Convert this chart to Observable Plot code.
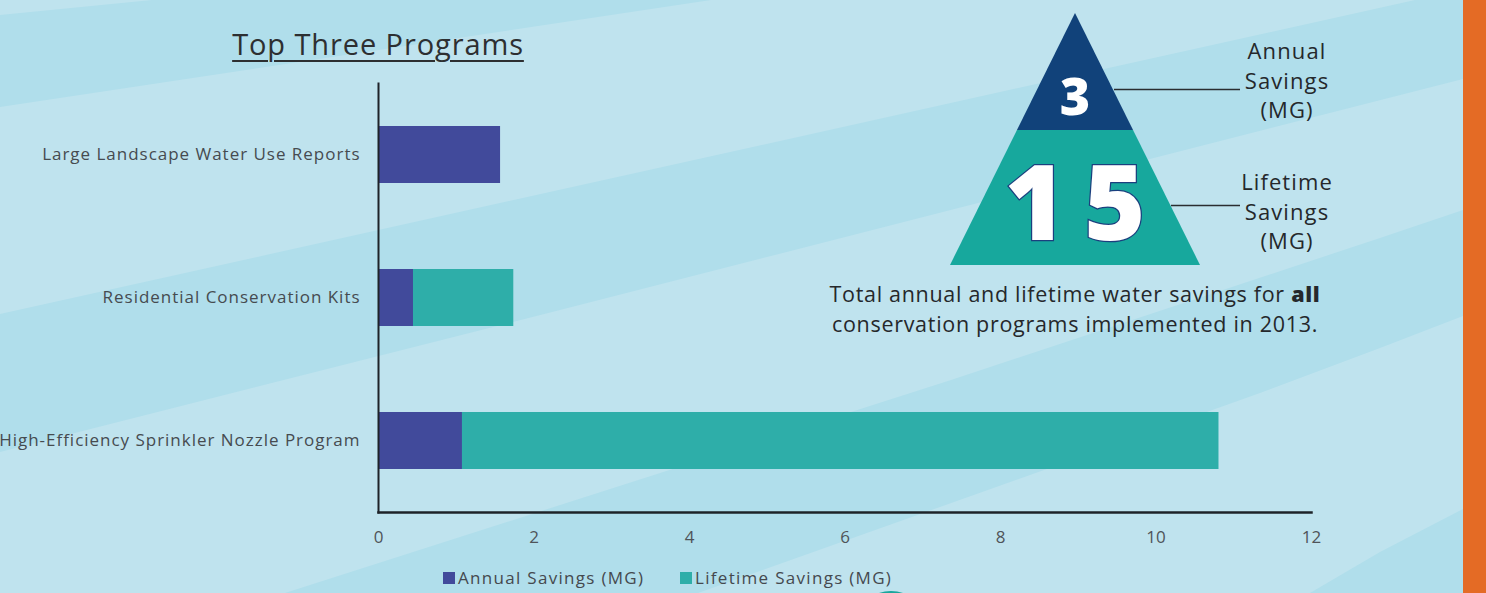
<!DOCTYPE html>
<html>
<head>
<meta charset="utf-8">
<script src="https://cdn.jsdelivr.net/npm/d3@7"></script>
<script src="https://cdn.jsdelivr.net/npm/@observablehq/plot@0.6"></script>
<style>
  html, body { margin: 0; padding: 0; }
  body { width: 1486px; height: 593px; overflow: hidden; font-family: "Open Sans", Lato, sans-serif; }
  #page { position: relative; width: 1486px; height: 593px; background: #bfe3ee; overflow: hidden; }
  #bg { position: absolute; left: 0; top: 0; }
  #content { position: absolute; left: 0; top: 0; width: 1486px; height: 593px; }
  #titlebox { position: relative; height: 65px; }
  #title { position: absolute; left: 378px; top: 24px; transform: translateX(-50%); white-space: nowrap;
           font-size: 29px; color: #2d2f31; text-decoration: underline; text-decoration-thickness: 1.5px;
           text-underline-offset: 5px; letter-spacing: 0.9px; }
  #legend { position: relative; height: 33px; }
  .lg { position: absolute; top: 6px; font-size: 17px; color: #45494e; white-space: nowrap; display: flex; align-items: center; letter-spacing: 1.3px; }
  .sw { display: inline-block; width: 12px; height: 12px; margin-right: 3px; }
  #overlay { position: absolute; left: 0; top: 0; }
  .side { position: absolute; text-align: center; font-size: 22px; line-height: 29.5px; color: #25282b; transform: translateX(-50%); white-space: nowrap; letter-spacing: 1.1px; }
  #caption { position: absolute; left: 1075px; top: 279px; transform: translateX(-50%); text-align: center;
             font-size: 21.5px; line-height: 29.5px; color: #25282b; white-space: nowrap; letter-spacing: 0.7px; }
  #caption b { font-weight: 800; }
  #orange { position: absolute; left: 1463px; top: 0; width: 23px; height: 593px; background: #e46b25; }
</style>
</head>
<body>
<div id="page">
  <svg id="bg" width="1486" height="593">
    <polygon fill="#b0deeb" points="0,15 152,0 711,0 0,107"/>
    <polygon fill="#b0deeb" points="1415,0 1463,0 1463,79 560,310 0,452 0,314"/>
    <polygon fill="#b0deeb" points="285,593 951,380 1380,238 1463,210 1463,316 1380,348 1260,393 940,507 698,593"/>
    <polygon fill="#b0deeb" points="1310,593 1380,552 1463,509 1463,593"/>
    <ellipse fill="#1aa69c" cx="891" cy="622" rx="34" ry="31"/>
  </svg>
  <div id="content">
    <div id="titlebox"><span id="title">Top Three Programs</span></div>
    <div id="chart"></div>
    <div id="legend"></div>
  </div>
  <svg id="overlay" width="1486" height="593"></svg>
  <div id="sideLabels"></div>
  <div id="caption">Total annual and lifetime water savings for <b>all</b><br>conservation programs implemented in 2013.</div>
  <div id="orange"></div>
</div>
<script>
// ---- data ----
const programs = [
  "Large Landscape Water Use Reports",
  "Residential Conservation Kits",
  "High-Efficiency Sprinkler Nozzle Program"
];
const annualSavings = [1.57, 0.45, 1.08];
const lifetimeSavings = [0, 1.29, 9.73];
const seriesNames = ["Annual Savings (MG)", "Lifetime Savings (MG)"];
const seriesColors = ["#414a9b", "#2eaea9"];
const xTicks = [0, 2, 4, 6, 8, 10, 12];
const totalNames = ["Annual\nSavings\n(MG)", "Lifetime\nSavings\n(MG)"];
const totalValues = [3, 15];

// ---- table for Plot ----
const rows = [];
programs.forEach((p, i) => {
  rows.push({program: p, series: seriesNames[0], value: annualSavings[i]});
  rows.push({program: p, series: seriesNames[1], value: lifetimeSavings[i]});
});

const chart = Plot.plot({
  width: 1486,
  height: 495,
  marginTop: 18,
  marginBottom: 48,
  marginLeft: 378,
  marginRight: 175,
  style: {background: "transparent", fontFamily: "'Open Sans', Lato, sans-serif", overflow: "visible"},
  x: {domain: [0, 12], ticks: xTicks, label: null},
  y: {domain: programs, paddingInner: 0.6, paddingOuter: 0.3, label: null},
  color: {domain: seriesNames, range: seriesColors},
  marks: [
    Plot.barX(rows, Plot.stackX({x: "value", y: "program", fill: "series", order: seriesNames})),
    Plot.axisY({tickSize: 0, tickPadding: 18, fontSize: 17, fill: "#464b50", label: null}),
    Plot.axisX({ticks: xTicks, tickSize: 0, tickPadding: 18, fontSize: 17, fill: "#4f5459", label: null}),
    Plot.frame({anchor: "left", stroke: "#1e2328", strokeWidth: 2}),
    Plot.frame({anchor: "bottom", stroke: "#1e2328", strokeWidth: 2.5})
  ]
});
chart.querySelectorAll("[aria-label='y-axis tick label']").forEach(g => g.setAttribute("letter-spacing", "0.98"));
document.getElementById("chart").appendChild(chart);

// ---- legend ----
const legend = document.getElementById("legend");
const legendX = [443, 680];
seriesNames.forEach((n, i) => {
  const d = document.createElement("div");
  d.className = "lg";
  d.style.left = legendX[i] + "px";
  d.innerHTML = `<span class="sw" style="background:${seriesColors[i]}"></span>${n}`;
  legend.appendChild(d);
});

// ---- triangle infographic ----
const ov = d3.select("#overlay");
const apex = [1075, 13], baseY = 265, halfBase = 125, splitY = 130;
const hw = y => halfBase * (y - apex[1]) / (baseY - apex[1]);
ov.append("polygon").attr("fill", "#17a89d")
  .attr("points", [[apex[0] - hw(splitY), splitY], [apex[0] + hw(splitY), splitY], [apex[0] + halfBase, baseY], [apex[0] - halfBase, baseY]].map(p => p.join(",")).join(" "));
ov.append("polygon").attr("fill", "#11427a")
  .attr("points", [apex, [apex[0] + hw(splitY), splitY], [apex[0] - hw(splitY), splitY]].map(p => p.join(",")).join(" "));
ov.append("text").text(totalValues[0])
  .attr("x", 1075).attr("y", 115).attr("text-anchor", "middle")
  .attr("font-family", "'Open Sans', sans-serif").attr("font-weight", 800).attr("font-size", 52)
  .attr("fill", "#ffffff");
ov.append("text").text(totalValues[1])
  .attr("x", 1084).attr("y", 240).attr("text-anchor", "middle")
  .attr("font-family", "'Open Sans', sans-serif").attr("font-weight", 800).attr("font-size", 105)
  .attr("letter-spacing", 18)
  .attr("fill", "#ffffff").attr("stroke", "#1b3f7e").attr("stroke-width", 2.5).attr("paint-order", "stroke");
// connectors
ov.append("line").attr("x1", 1114).attr("x2", 1240).attr("y1", 89.5).attr("y2", 89.5).attr("stroke", "#2a2d30").attr("stroke-width", 1.3);
ov.append("line").attr("x1", 1171).attr("x2", 1240).attr("y1", 205.5).attr("y2", 205.5).attr("stroke", "#2a2d30").attr("stroke-width", 1.3);

const side = document.getElementById("sideLabels");
const sideTops = [36, 167];
totalNames.forEach((n, i) => {
  const d = document.createElement("div");
  d.className = "side";
  d.style.left = "1287px";
  d.style.top = sideTops[i] + "px";
  d.innerHTML = n.split("\n").join("<br>");
  side.appendChild(d);
});
</script>
</body>
</html>
